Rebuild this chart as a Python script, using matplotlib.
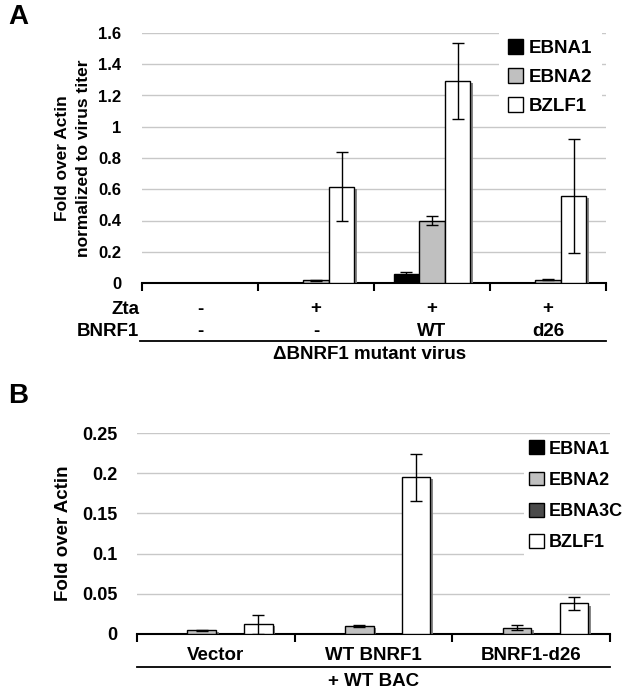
import numpy as np
import matplotlib
matplotlib.use('Agg')
import matplotlib.pyplot as plt
import matplotlib.patheffects as pe
import matplotlib.transforms as mtransforms
from matplotlib.lines import Line2D
from matplotlib.patches import Patch
from matplotlib.ticker import FuncFormatter

plt.rcParams['font.family'] = ['Liberation Sans', 'DejaVu Sans']
plt.rcParams['font.weight'] = 'bold'

# panel A data
zta = ['-', '+', '+', '+']
bnrf1 = ['-', '-', 'WT', 'd26']
ebna1_a = [0, 0, 0.058, 0]
ebna1_a_err = [0, 0, 0.013, 0]
ebna2_a = [0, 0.017, 0.398, 0.022]
ebna2_a_err = [0, 0.003, 0.029, 0.003]
bzlf1_a = [0, 0.617, 1.293, 0.555]
bzlf1_a_err = [0, 0.223, 0.246, 0.365]

# panel B data
groups_b = ['Vector', 'WT BNRF1', 'BNRF1-d26']
ebna1_b = [0.0005, 0.0005, 0]
ebna1_b_err = [0, 0, 0]
ebna2_b = [0.0045, 0.010, 0.008]
ebna2_b_err = [0.0008, 0.0018, 0.003]
ebna3c_b = [0, 0, 0]
ebna3c_b_err = [0, 0, 0]
bzlf1_b = [0.012, 0.195, 0.038]
bzlf1_b_err = [0.012, 0.029, 0.0083]

colors = {'EBNA1': '#000000', 'EBNA2': '#c0c0c0', 'EBNA3C': '#4a4a4a', 'BZLF1': '#ffffff'}

W, H = 625, 697
fig = plt.figure(figsize=(W / 100, H / 100), dpi=100)


def box(l, r, t, b):
    return [l / W, 1 - b / H, (r - l) / W, (b - t) / H]


def fy(py):
    return 1 - py / H


shadow = [pe.SimplePatchShadow(offset=(2, -1.5), shadow_rgbFace='#7a7a7a', alpha=0.9), pe.Normal()]


def draw_bars(ax, series, width):
    n = len(series)
    handles = []
    for i, (name, vals, errs) in enumerate(series):
        x = np.arange(len(vals)) + (i - (n - 1) / 2) * width
        bars = ax.bar(x, vals, width, color=colors[name], edgecolor='black', linewidth=1, zorder=3)
        for b in bars:
            b.set_path_effects(shadow)
        errs = np.array(errs)
        m = errs > 0
        ax.errorbar(x[m], np.array(vals)[m], yerr=errs[m], fmt='none', ecolor='black',
                    elinewidth=1, capsize=4, capthick=1, zorder=4)
        handles.append(Patch(facecolor=colors[name], edgecolor='black', linewidth=1, label=name))
    return handles


def style(ax, ngroups, ymax, yticks, tick_fs, pad):
    ax.set_xlim(-0.5, ngroups - 0.5)
    ax.set_ylim(0, ymax)
    ax.set_yticks(yticks)
    ax.yaxis.set_major_formatter(FuncFormatter(lambda v, p: '%g' % round(v, 3)))
    ax.set_xticks(np.arange(ngroups + 1) - 0.5)
    ax.set_xticklabels([])
    ax.tick_params(axis='x', direction='out', length=6, width=1.5)
    ax.tick_params(axis='y', length=0, labelsize=tick_fs, pad=pad)
    for s in ['top', 'right', 'left']:
        ax.spines[s].set_visible(False)
    ax.spines['bottom'].set_linewidth(1.5)
    ax.yaxis.grid(True, color='#c8c8c8', linewidth=1)
    ax.set_axisbelow(True)
    for lab in ax.get_yticklabels():
        lab.set_fontweight('bold')


# ---- panel A ----
axA = fig.add_axes(box(142, 606, 33, 283))
hA = draw_bars(axA, [('EBNA1', ebna1_a, ebna1_a_err), ('EBNA2', ebna2_a, ebna2_a_err),
                     ('BZLF1', bzlf1_a, bzlf1_a_err)], 0.22)
style(axA, 4, 1.6, np.arange(0, 1.61, 0.2), 12, 15)
axA.set_ylabel('Fold over Actin\nnormalized to virus titer', fontsize=12.5, fontweight='bold',
               labelpad=5, linespacing=1.5)
legA = axA.legend(handles=hA, loc='upper left', bbox_to_anchor=(499 / W, fy(30)), bbox_transform=fig.transFigure,
                  fontsize=13.5, frameon=True, framealpha=1, edgecolor='none', fancybox=False,
                  handlelength=0.8, handleheight=0.8, handletextpad=0.3, labelspacing=0.6,
                  borderpad=0.5, borderaxespad=0)
legA.get_frame().set_linewidth(0)

tA = mtransforms.blended_transform_factory(axA.transData, fig.transFigure)
fig.text(139 / W, fy(309), 'Zta', ha='right', va='center', fontsize=13.5, fontweight='bold')
fig.text(139 / W, fy(331), 'BNRF1', ha='right', va='center', fontsize=13.5, fontweight='bold')
for i in range(4):
    axA.text(i, fy(309), zta[i], transform=tA, ha='center', va='center', fontsize=13.5, fontweight='bold')
    axA.text(i, fy(331), bnrf1[i], transform=tA, ha='center', va='center', fontsize=13.5, fontweight='bold')
fig.add_artist(Line2D([140 / W, 606 / W], [fy(341), fy(341)], color='black', lw=1.3))
fig.text(370 / W, fy(355), '\u0394BNRF1 mutant virus', ha='center', va='center', fontsize=13.5, fontweight='bold')
fig.text(8 / W, fy(17), 'A', ha='left', va='center', fontsize=20, fontweight='bold')

# ---- panel B ----
axB = fig.add_axes(box(137, 610, 433, 634))
hB = draw_bars(axB, [('EBNA1', ebna1_b, ebna1_b_err), ('EBNA2', ebna2_b, ebna2_b_err),
                     ('EBNA3C', ebna3c_b, ebna3c_b_err), ('BZLF1', bzlf1_b, bzlf1_b_err)], 0.18)
style(axB, 3, 0.25, np.arange(0, 0.251, 0.05), 13, 14)
axB.set_ylabel('Fold over Actin', fontsize=13.5, fontweight='bold', labelpad=7)
legB = axB.legend(handles=hB, loc='upper left', bbox_to_anchor=(524 / W, fy(435)), bbox_transform=fig.transFigure,
                  fontsize=13, frameon=True, framealpha=1, edgecolor='none', fancybox=False,
                  handlelength=0.8, handleheight=0.8, handletextpad=0.25, labelspacing=0.78,
                  borderpad=0.3, borderaxespad=0)
legB.get_frame().set_linewidth(0)

tB = mtransforms.blended_transform_factory(axB.transData, fig.transFigure)
for i, g in enumerate(groups_b):
    axB.text(i, fy(656), g, transform=tB, ha='center', va='center', fontsize=13.5, fontweight='bold')
fig.add_artist(Line2D([137 / W, 610 / W], [fy(667), fy(667)], color='black', lw=1.3))
axB.text(1, fy(681), '+ WT BAC', transform=tB, ha='center', va='center', fontsize=13.5, fontweight='bold')
fig.text(8 / W, fy(396), 'B', ha='left', va='center', fontsize=20, fontweight='bold')

fig.savefig('out.png', dpi=100)
